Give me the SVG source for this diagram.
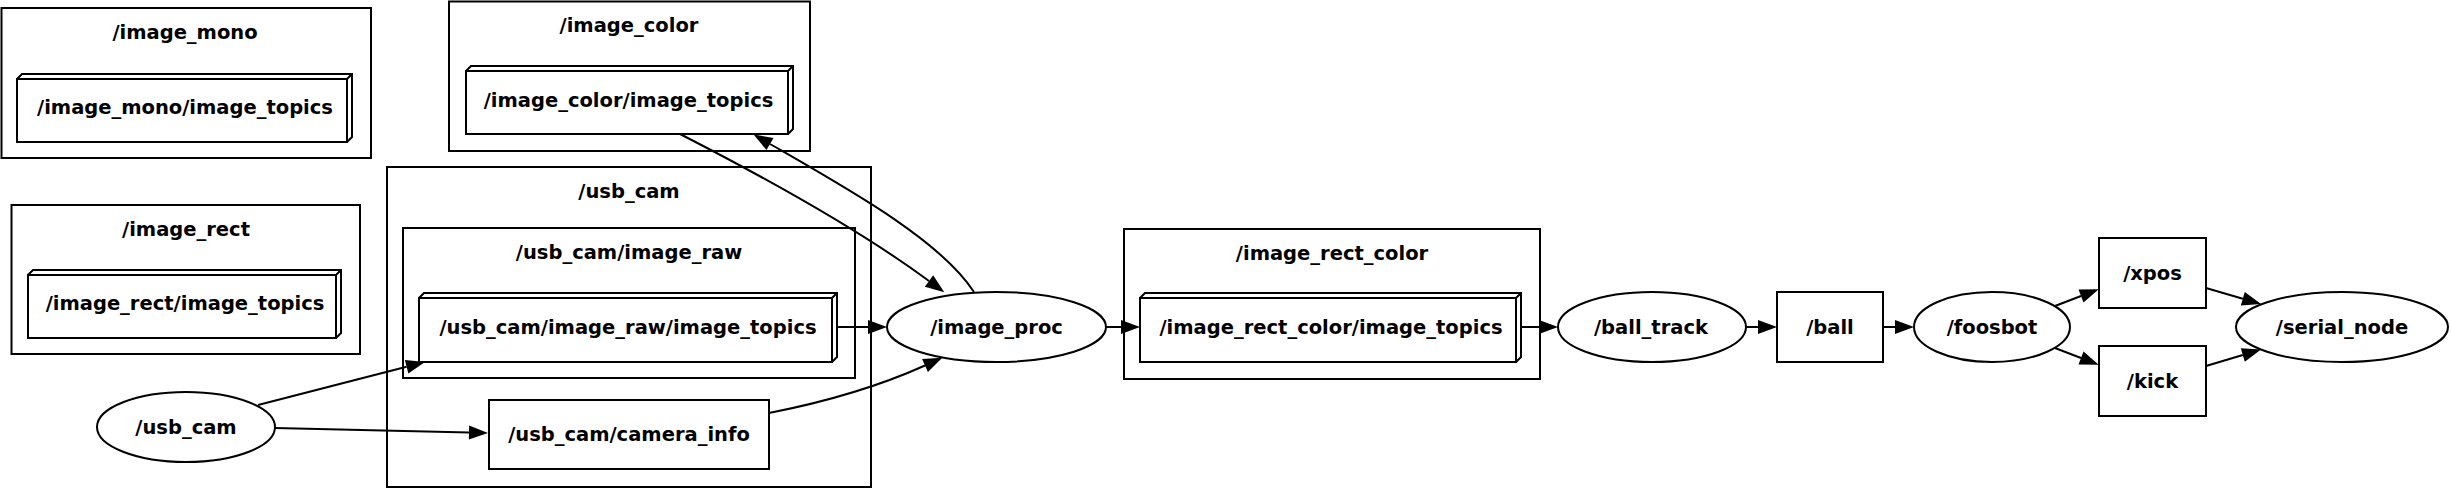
<svg xmlns="http://www.w3.org/2000/svg" width="2451" height="488" viewBox="0 0 2451 488">
<style>
.cl{fill:none;stroke:#000;stroke-width:2}
.nd{fill:none;stroke:#000;stroke-width:2}
.t{font-family:'DejaVu Sans','Liberation Sans',sans-serif;font-size:19.5px;font-weight:bold;text-anchor:middle;fill:#000}
.e{fill:none;stroke:#000;stroke-width:2;marker-end:url(#ah)}
</style>
<defs>
<marker id="ah" markerUnits="userSpaceOnUse" viewBox="0 0 20 14" markerWidth="20" markerHeight="14" refX="0" refY="7" orient="auto" overflow="visible">
<path d="M0,0 L19,7 L0,14 Z" fill="#000"/>
</marker>
</defs>
<rect width="2451" height="488" fill="#fff"/>

<g id="cluster_image_mono">
<rect class="cl" x="1.5" y="8" width="369.5" height="150"/>
<text class="t" x="185" y="39">/image_mono</text>
</g>
<g id="image_mono_topics">
<path class="nd" d="M17,79 L347,79 L347,142 L17,142 Z M17,79 L22,74 L352,74 L352,137 L347,142 M347,79 L352,74"/>
<text class="t" x="185" y="114">/image_mono/image_topics</text>
</g>

<g id="cluster_image_color">
<rect class="cl" x="449" y="1.5" width="361" height="149.5"/>
<text class="t" x="629" y="32">/image_color</text>
</g>
<g id="image_color_topics">
<path class="nd" d="M466,71 L788,71 L788,134 L466,134 Z M466,71 L471,66 L793,66 L793,129 L788,134 M788,71 L793,66"/>
<text class="t" x="628.5" y="107">/image_color/image_topics</text>
</g>

<g id="cluster_image_rect">
<rect class="cl" x="11.5" y="205" width="348.5" height="149"/>
<text class="t" x="186" y="236">/image_rect</text>
</g>
<g id="image_rect_topics">
<path class="nd" d="M28,275 L336,275 L336,338 L28,338 Z M28,275 L33,270 L341,270 L341,333 L336,338 M336,275 L341,270"/>
<text class="t" x="185" y="310">/image_rect/image_topics</text>
</g>

<g id="cluster_usb_cam">
<rect class="cl" x="387" y="167" width="484" height="320"/>
<text class="t" x="629" y="198">/usb_cam</text>
</g>
<g id="cluster_usb_cam_image_raw">
<rect class="cl" x="403" y="228" width="452" height="150"/>
<text class="t" x="629" y="259">/usb_cam/image_raw</text>
</g>
<g id="usb_cam_image_raw_topics">
<path class="nd" d="M419,298 L832,298 L832,362 L419,362 Z M419,298 L424,293 L837,293 L837,357 L832,362 M832,298 L837,293"/>
<text class="t" x="628" y="333.5">/usb_cam/image_raw/image_topics</text>
</g>
<g id="usb_cam_camera_info">
<rect class="nd" x="489" y="400" width="280" height="69"/>
<text class="t" x="629" y="441">/usb_cam/camera_info</text>
</g>

<g id="usb_cam_node">
<ellipse class="nd" cx="186" cy="427" rx="89" ry="35"/>
<text class="t" x="186" y="434">/usb_cam</text>
</g>

<g id="image_proc">
<ellipse class="nd" cx="996.5" cy="327" rx="109.5" ry="35"/>
<text class="t" x="996.5" y="333.5">/image_proc</text>
</g>

<g id="cluster_image_rect_color">
<rect class="cl" x="1124" y="229" width="416" height="150"/>
<text class="t" x="1332" y="260">/image_rect_color</text>
</g>
<g id="image_rect_color_topics">
<path class="nd" d="M1140,298 L1516,298 L1516,362 L1140,362 Z M1140,298 L1145,293 L1521,293 L1521,357 L1516,362 M1516,298 L1521,293"/>
<text class="t" x="1331" y="333.5">/image_rect_color/image_topics</text>
</g>

<g id="ball_track">
<ellipse class="nd" cx="1652" cy="327" rx="94" ry="35"/>
<text class="t" x="1651" y="333.5">/ball_track</text>
</g>
<g id="ball">
<rect class="nd" x="1777" y="292" width="106" height="70"/>
<text class="t" x="1830" y="333.5">/ball</text>
</g>
<g id="foosbot">
<ellipse class="nd" cx="1992" cy="327" rx="78" ry="35"/>
<text class="t" x="1992" y="333.5">/foosbot</text>
</g>
<g id="xpos">
<rect class="nd" x="2099" y="238" width="107" height="70"/>
<text class="t" x="2152.5" y="280">/xpos</text>
</g>
<g id="kick">
<rect class="nd" x="2099" y="346" width="107" height="70"/>
<text class="t" x="2152.5" y="388">/kick</text>
</g>
<g id="serial_node">
<ellipse class="nd" cx="2342" cy="327" rx="106" ry="35"/>
<text class="t" x="2342" y="333.5">/serial_node</text>
</g>

<g id="edges">
<path class="e" d="M258,405 L406.6,366.7"/>
<path class="e" d="M275,428 L469,432.5"/>
<path class="e" d="M769,413 C820,403 875,388 925,365.5"/>
<path class="e" d="M837,327 L868,327"/>
<path class="e" d="M680,134 C760,175 860,230 929,281"/>
<path class="e" d="M974,292 C940,240 850,190 770,144"/>
<path class="e" d="M1106,327 L1121,327"/>
<path class="e" d="M1521,327 L1539,327"/>
<path class="e" d="M1746,327 L1758,327"/>
<path class="e" d="M1883,327 L1895,327"/>
<path class="e" d="M2055,306 L2081,296"/>
<path class="e" d="M2055,348 L2081,358"/>
<path class="e" d="M2206,288 L2242.8,298.7"/>
<path class="e" d="M2206,366 L2242.8,355"/>
</g>
</svg>
